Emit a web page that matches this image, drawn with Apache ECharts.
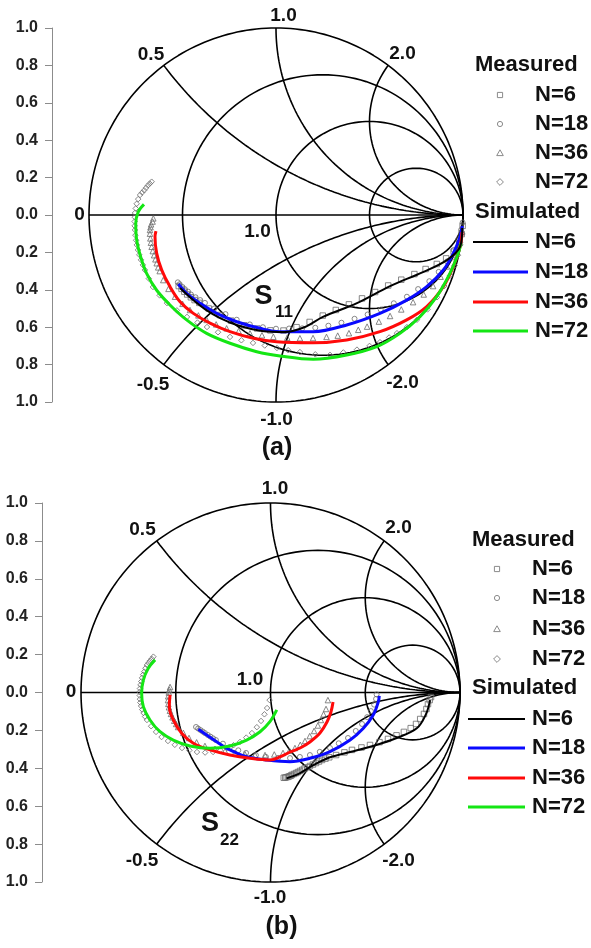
<!DOCTYPE html>
<html><head><meta charset="utf-8">
<script src="https://cdn.jsdelivr.net/npm/echarts@6/dist/echarts.min.js"></script>
<style>html,body{margin:0;padding:0;background:#fff}#c{width:591px;height:948px}</style>
</head><body><div id="c"></div>
<script>
// ---------- Smith chart grid definition ----------
const resistanceCircles = [1/3, 1, 3];
const reactanceArcs = [0.5, 1, 2];
const seriesNames = ['N=6', 'N=18', 'N=36', 'N=72'];

// ---------- Panel (a) S11 : simulated (reflection coefficient u, v) ----------
const aSimN6 = [[-0.513,-0.390],[-0.449,-0.449],[-0.380,-0.503],[-0.299,-0.551],[-0.193,-0.594],[-0.075,-0.620],[0.048,-0.626],[0.155,-0.599],[0.251,-0.545],[0.433,-0.471],[0.610,-0.380],[0.786,-0.305],[0.914,-0.241],[0.984,-0.171],[0.996,-0.070]];
const aSimN18 = [[-0.522,-0.369],[-0.478,-0.419],[-0.406,-0.472],[-0.317,-0.526],[-0.210,-0.571],[-0.086,-0.606],[0.021,-0.624],[0.199,-0.624],[0.378,-0.588],[0.556,-0.526],[0.699,-0.455],[0.806,-0.383],[0.895,-0.294],[0.948,-0.205],[0.984,-0.116],[0.996,-0.059]];
const aSimN36 = [[-0.642,-0.086],[-0.647,-0.116],[-0.638,-0.205],[-0.611,-0.294],[-0.567,-0.383],[-0.513,-0.464],[-0.442,-0.526],[-0.353,-0.578],[-0.246,-0.624],[-0.121,-0.659],[0.004,-0.678],[0.198,-0.683],[0.378,-0.668],[0.556,-0.624],[0.699,-0.561],[0.806,-0.490],[0.895,-0.383],[0.948,-0.276],[0.984,-0.170],[0.995,-0.091]];
const aSimN72 = [[-0.706,0.057],[-0.736,0.018],[-0.750,-0.044],[-0.745,-0.134],[-0.724,-0.223],[-0.692,-0.312],[-0.639,-0.401],[-0.567,-0.481],[-0.478,-0.561],[-0.371,-0.633],[-0.246,-0.686],[-0.103,-0.731],[0.021,-0.754],[0.199,-0.772],[0.378,-0.749],[0.539,-0.704],[0.663,-0.633],[0.770,-0.544],[0.859,-0.437],[0.930,-0.312],[0.975,-0.205],[0.989,-0.150]];

// ---------- Panel (a) S11 : measured ----------
const aMeasN6 = [[-0.52,-0.38],[-0.505,-0.395],[-0.49,-0.41],[-0.475,-0.425],[-0.455,-0.44],[-0.435,-0.455],[-0.41,-0.47],[-0.36,-0.50],[-0.30,-0.535],[-0.24,-0.565],[-0.17,-0.59],[-0.10,-0.607],[-0.03,-0.617],[0.04,-0.618],[0.11,-0.600],[0.18,-0.572],[0.25,-0.538],[0.32,-0.508],[0.39,-0.478],[0.46,-0.446],[0.53,-0.412],[0.60,-0.377],[0.67,-0.346],[0.74,-0.316],[0.80,-0.289],[0.86,-0.262],[0.91,-0.232],[0.95,-0.196],[0.98,-0.152],[0.993,-0.102],[0.998,-0.058]];
const aMeasN18 = [[-0.525,-0.36],[-0.515,-0.37],[-0.50,-0.385],[-0.487,-0.397],[-0.47,-0.41],[-0.455,-0.425],[-0.43,-0.44],[-0.405,-0.455],[-0.38,-0.47],[-0.33,-0.50],[-0.27,-0.53],[-0.21,-0.56],[-0.14,-0.585],[-0.07,-0.60],[0.0,-0.608],[0.07,-0.607],[0.14,-0.606],[0.21,-0.603],[0.28,-0.592],[0.35,-0.576],[0.42,-0.555],[0.49,-0.532],[0.56,-0.506],[0.63,-0.472],[0.70,-0.437],[0.76,-0.396],[0.82,-0.354],[0.87,-0.304],[0.915,-0.248],[0.95,-0.187],[0.975,-0.13],[0.99,-0.08],[0.998,-0.04]];
const aMeasN36 = [[-0.656,-0.018],[-0.66,-0.035],[-0.668,-0.05],[-0.671,-0.065],[-0.674,-0.08],[-0.674,-0.10],[-0.672,-0.125],[-0.669,-0.148],[-0.665,-0.17],[-0.659,-0.193],[-0.652,-0.215],[-0.645,-0.237],[-0.638,-0.258],[-0.63,-0.28],[-0.622,-0.30],[-0.603,-0.348],[-0.575,-0.395],[-0.540,-0.437],[-0.50,-0.475],[-0.460,-0.508],[-0.415,-0.537],[-0.371,-0.561],[-0.32,-0.585],[-0.264,-0.606],[-0.20,-0.621],[-0.139,-0.633],[-0.075,-0.643],[-0.014,-0.651],[0.06,-0.656],[0.128,-0.659],[0.198,-0.658],[0.27,-0.652],[0.33,-0.645],[0.39,-0.632],[0.44,-0.614],[0.487,-0.597],[0.55,-0.57],[0.610,-0.540],[0.67,-0.505],[0.733,-0.466],[0.79,-0.425],[0.840,-0.38],[0.88,-0.33],[0.914,-0.275],[0.945,-0.225],[0.968,-0.18],[0.985,-0.135],[0.995,-0.09]];
const aMeasN72 = [[-0.665,0.178],[-0.675,0.168],[-0.685,0.158],[-0.695,0.145],[-0.705,0.132],[-0.716,0.12],[-0.727,0.107],[-0.737,0.085],[-0.745,0.06],[-0.75,0.035],[-0.754,0.011],[-0.755,-0.012],[-0.756,-0.035],[-0.756,-0.058],[-0.754,-0.08],[-0.752,-0.108],[-0.748,-0.135],[-0.744,-0.16],[-0.738,-0.187],[-0.731,-0.213],[-0.722,-0.24],[-0.712,-0.267],[-0.701,-0.294],[-0.68,-0.34],[-0.658,-0.385],[-0.622,-0.43],[-0.583,-0.471],[-0.53,-0.51],[-0.476,-0.545],[-0.42,-0.575],[-0.369,-0.599],[-0.31,-0.627],[-0.246,-0.652],[-0.185,-0.67],[-0.123,-0.684],[-0.06,-0.698],[0.005,-0.711],[0.065,-0.723],[0.128,-0.733],[0.21,-0.745],[0.289,-0.748],[0.36,-0.735],[0.433,-0.72],[0.5,-0.70],[0.556,-0.68],[0.605,-0.655],[0.647,-0.632],[0.70,-0.60],[0.754,-0.56],[0.81,-0.505],[0.861,-0.44],[0.90,-0.38],[0.930,-0.325],[0.955,-0.27],[0.973,-0.215],[0.986,-0.16],[0.995,-0.10]];

// ---------- Panel (b) S22 : simulated ----------
const bSimN6 = [[0.085,-0.453],[0.156,-0.425],[0.226,-0.383],[0.314,-0.342],[0.420,-0.314],[0.541,-0.282],[0.666,-0.240],[0.772,-0.189],[0.821,-0.113],[0.842,-0.040]];
const bSimN18 = [[-0.381,-0.194],[-0.337,-0.224],[-0.284,-0.260],[-0.214,-0.303],[-0.126,-0.339],[-0.020,-0.356],[0.103,-0.365],[0.208,-0.347],[0.314,-0.312],[0.420,-0.251],[0.490,-0.189],[0.542,-0.119],[0.569,-0.049],[0.574,-0.018]];
const bSimN36 = [[-0.530,-0.013],[-0.534,-0.075],[-0.513,-0.145],[-0.469,-0.215],[-0.407,-0.268],[-0.319,-0.303],[-0.214,-0.330],[-0.108,-0.347],[-0.003,-0.356],[0.050,-0.340],[0.103,-0.314],[0.156,-0.293],[0.208,-0.261],[0.261,-0.214],[0.298,-0.156],[0.319,-0.103],[0.330,-0.050]];
const bSimN72 = [[-0.609,0.172],[-0.645,0.128],[-0.671,0.066],[-0.680,-0.004],[-0.671,-0.075],[-0.636,-0.145],[-0.583,-0.207],[-0.513,-0.251],[-0.425,-0.282],[-0.319,-0.294],[-0.214,-0.282],[-0.126,-0.251],[-0.055,-0.207],[-0.003,-0.154],[0.033,-0.092]];

// ---------- Panel (b) S22 : measured ----------
const bMeasN6 = [[0.07,-0.45],[0.078,-0.449],[0.085,-0.447],[0.093,-0.445],[0.10,-0.442],[0.107,-0.439],[0.113,-0.435],[0.124,-0.43],[0.135,-0.425],[0.145,-0.42],[0.156,-0.414],[0.168,-0.408],[0.18,-0.401],[0.194,-0.395],[0.208,-0.388],[0.224,-0.38],[0.24,-0.372],[0.256,-0.364],[0.272,-0.356],[0.29,-0.349],[0.31,-0.342],[0.346,-0.330],[0.39,-0.316],[0.430,-0.303],[0.48,-0.29],[0.525,-0.277],[0.575,-0.262],[0.620,-0.245],[0.665,-0.226],[0.704,-0.208],[0.74,-0.188],[0.768,-0.166],[0.79,-0.14],[0.810,-0.113],[0.823,-0.087],[0.831,-0.061],[0.84,-0.04],[0.847,-0.024]];
const bMeasN18 = [[-0.393,-0.182],[-0.382,-0.19],[-0.37,-0.198],[-0.358,-0.206],[-0.346,-0.214],[-0.331,-0.224],[-0.317,-0.233],[-0.303,-0.242],[-0.288,-0.251],[-0.251,-0.27],[-0.214,-0.288],[-0.17,-0.305],[-0.129,-0.319],[-0.077,-0.331],[-0.024,-0.340],[0.04,-0.345],[0.103,-0.346],[0.155,-0.34],[0.208,-0.330],[0.26,-0.313],[0.314,-0.293],[0.36,-0.268],[0.409,-0.240],[0.45,-0.203],[0.483,-0.166],[0.51,-0.13],[0.530,-0.098],[0.547,-0.064],[0.557,-0.034],[0.56,-0.01]];
const bMeasN36 = [[-0.530,0.029],[-0.534,0.015],[-0.537,0.0],[-0.54,-0.02],[-0.541,-0.040],[-0.539,-0.06],[-0.536,-0.078],[-0.531,-0.096],[-0.525,-0.113],[-0.517,-0.131],[-0.508,-0.149],[-0.498,-0.166],[-0.488,-0.182],[-0.46,-0.213],[-0.430,-0.240],[-0.39,-0.263],[-0.346,-0.282],[-0.293,-0.297],[-0.240,-0.309],[-0.188,-0.318],[-0.135,-0.325],[-0.082,-0.329],[-0.029,-0.330],[0.02,-0.327],[0.066,-0.319],[0.10,-0.307],[0.129,-0.293],[0.157,-0.276],[0.182,-0.256],[0.207,-0.23],[0.230,-0.203],[0.25,-0.174],[0.266,-0.145],[0.28,-0.115],[0.293,-0.087],[0.303,-0.040]];
const bMeasN72 = [[-0.618,0.189],[-0.627,0.178],[-0.636,0.167],[-0.644,0.156],[-0.652,0.145],[-0.66,0.128],[-0.666,0.11],[-0.672,0.094],[-0.678,0.077],[-0.682,0.058],[-0.686,0.04],[-0.689,0.021],[-0.691,0.003],[-0.69,-0.016],[-0.689,-0.035],[-0.687,-0.053],[-0.683,-0.071],[-0.677,-0.09],[-0.67,-0.108],[-0.662,-0.127],[-0.652,-0.145],[-0.63,-0.178],[-0.604,-0.208],[-0.575,-0.235],[-0.541,-0.256],[-0.505,-0.276],[-0.467,-0.293],[-0.428,-0.305],[-0.388,-0.314],[-0.345,-0.317],[-0.303,-0.314],[-0.265,-0.305],[-0.230,-0.293],[-0.195,-0.278],[-0.161,-0.261],[-0.128,-0.238],[-0.098,-0.214],[-0.072,-0.183],[-0.050,-0.150],[-0.032,-0.115],[-0.018,-0.082],[-0.005,-0.040]];

// ---------- styling ----------
const FONT = '"Liberation Sans", Arial, Helvetica, sans-serif';
const simColors = ['#000000', '#0a0aff', '#ff0a0a', '#14e614'];
const measSymbols = ['rect', 'circle', 'triangle', 'diamond'];
const measColor = '#6a6a6a';

const panels = [
  { grid: {left: 89, top: 28, width: 374, height: 374}, yOffset: 37,
    sim: [aSimN6, aSimN18, aSimN36, aSimN72], meas: [aMeasN6, aMeasN18, aMeasN36, aMeasN72] },
  { grid: {left: 81, top: 503, width: 379, height: 379}, yOffset: 39,
    sim: [bSimN6, bSimN18, bSimN36, bSimN72], meas: [bMeasN6, bMeasN18, bMeasN36, bMeasN72] }
];

function arc(cx, cy, rad, a0, a1, n) {
  const pts = [];
  for (let i = 0; i <= n; i++) {
    const t = a0 + (a1 - a0) * i / n;
    pts.push([cx + rad * Math.cos(t), cy + rad * Math.sin(t)]);
  }
  return pts;
}
function smithGridLines() {
  const segs = [];
  segs.push(arc(0, 0, 1, 0, 2 * Math.PI, 240));
  resistanceCircles.forEach(r => segs.push(arc(r / (r + 1), 0, 1 / (r + 1), 0, 2 * Math.PI, 160)));
  reactanceArcs.forEach(x => {
    const c = 1 / x;
    const px = (x * x - 1) / (x * x + 1), py = 2 * x / (x * x + 1);
    let end = Math.atan2(py - c, px - 1);
    if (end > -Math.PI / 2) end -= 2 * Math.PI;
    segs.push(arc(1, c, c, -Math.PI / 2, end, 140));
    segs.push(arc(1, -c, c, Math.PI / 2, -end, 140));
  });
  segs.push([[-1, 0], [1, 0]]);
  return segs;
}

const grids = [], xAxes = [], yAxes = [], series = [];
panels.forEach((p, i) => {
  grids.push(Object.assign({containLabel: false}, p.grid));
  xAxes.push({type: 'value', gridIndex: i, min: -1, max: 1, show: false});
  yAxes.push({type: 'value', gridIndex: i, position: 'left', min: -1, max: 1, interval: 0.2, offset: p.yOffset,
    axisLine: {show: true, onZero: false, lineStyle: {color: '#8c8c8c', width: 1}},
    axisTick: {show: true, inside: false, length: 7, lineStyle: {color: '#8c8c8c'}},
    axisLabel: {formatter: v => Math.abs(v).toFixed(1), fontWeight: 'bold', fontSize: 16,
      fontFamily: FONT, color: '#222', margin: 14},
    splitLine: {show: false}});
  smithGridLines().forEach(seg => series.push({
    type: 'line', xAxisIndex: i, yAxisIndex: i, data: seg, symbol: 'none', silent: true,
    clip: false, lineStyle: {color: '#000', width: 1.6}, z: 1, animation: false
  }));
  p.meas.forEach((d, k) => series.push({
    type: 'scatter', name: 'Measured ' + seriesNames[k], xAxisIndex: i, yAxisIndex: i, data: d,
    symbol: measSymbols[k], symbolSize: k === 1 ? 5 : 5.5, silent: true, animation: false, z: 2,
    itemStyle: {color: 'rgba(0,0,0,0)', borderColor: measColor, borderWidth: 1}
  }));
  p.sim.forEach((d, k) => series.push({
    type: 'line', name: 'Simulated ' + seriesNames[k], xAxisIndex: i, yAxisIndex: i, data: d,
    symbol: 'none', smooth: 0.35, silent: true, animation: false, z: k === 0 ? 4 : 3,
    lineStyle: {color: simColors[k], width: k === 0 ? 2 : 3}
  }));
});

// ---------- text & legends ----------
const graphic = [];
function txt(s, x, y, size, align) {
  graphic.push({type: 'text', x: x, y: y, z: 10, silent: true,
    style: {text: s, font: 'bold ' + size + 'px ' + FONT, fill: '#111',
      align: align || 'center', verticalAlign: 'middle'}});
}
const smithLabelsA = [['0',79.5,215],['0.5',151,55],['1.0',283.5,15.5],['2.0',402.5,53.5],['1.0',257.5,231.5],['-0.5',153,384.5],['-1.0',276.5,419.5],['-2.0',402.5,382.5]];
const smithLabelsB = [['0',71,692],['0.5',142.5,530],['1.0',275,489],['2.0',398.5,528],['1.0',250,679.5],['-0.5',142,861],['-1.0',270,898],['-2.0',398.5,861]];
smithLabelsA.concat(smithLabelsB).forEach(l => txt(l[0], l[1], l[2], 19));

txt('S', 263.5, 297, 27); txt('11', 284, 312, 17);
txt('S', 210, 823.5, 27); txt('22', 229.5, 840, 17);
txt('(a)', 277, 448, 25); txt('(b)', 281.5, 927, 25);

function legend(hx, measY, measRows, symX, textX, simY, simRows, lx1, lx2) {
  txt('Measured', hx, measY, 22, 'left');
  measRows.forEach((y, k) => {
    const s = 2.6, st = {fill: 'none', stroke: '#8a8a8a', lineWidth: 1};
    if (k === 0) graphic.push({type: 'rect', shape: {x: symX - s, y: y - s, width: 2 * s, height: 2 * s}, style: st, silent: true});
    if (k === 1) graphic.push({type: 'circle', shape: {cx: symX, cy: y, r: s}, style: st, silent: true});
    if (k === 2) graphic.push({type: 'polygon', shape: {points: [[symX, y - 3.2], [symX + 3.3, y + 2.6], [symX - 3.3, y + 2.6]]}, style: st, silent: true});
    if (k === 3) graphic.push({type: 'polygon', shape: {points: [[symX, y - 3.4], [symX + 3.4, y], [symX, y + 3.4], [symX - 3.4, y]]}, style: st, silent: true});
    txt(seriesNames[k], textX, y, 22, 'left');
  });
  txt('Simulated', hx, simY, 22, 'left');
  simRows.forEach((y, k) => {
    graphic.push({type: 'line', shape: {x1: lx1, y1: y, x2: lx2, y2: y},
      style: {stroke: simColors[k], lineWidth: k === 0 ? 2 : 3}, silent: true});
    txt(seriesNames[k], textX, y, 22, 'left');
  });
}
legend(475, 65, [95, 124, 153, 182], 500, 535, 212, [242, 272, 302, 331], 473, 528);
legend(472, 540, [569, 598, 629, 659], 497, 532, 688, [719, 748, 778, 807], 468, 525);

const chart = echarts.init(document.getElementById('c'));
chart.setOption({
  animation: false,
  backgroundColor: '#fff',
  grid: grids, xAxis: xAxes, yAxis: yAxes,
  series: series, graphic: graphic
});
</script></body></html>
